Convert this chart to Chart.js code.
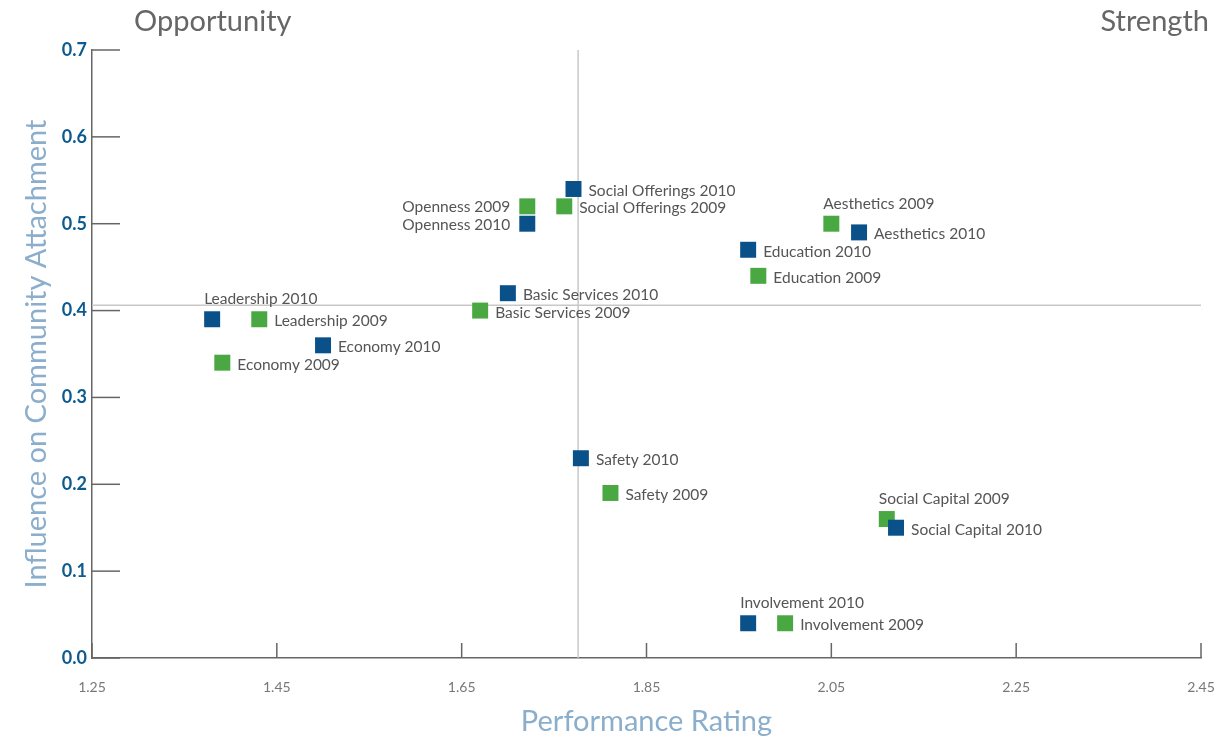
<!DOCTYPE html>
<html>
<head>
<meta charset="utf-8">
<script src="https://cdn.jsdelivr.net/npm/chart.js@4"></script>
<style>
  body { margin:0; background:#fff; }
  canvas { display:block; }
</style>
</head>
<body>
<canvas id="chart" width="1223" height="740"></canvas>
<script>
// -- data --
let categories = ["Social Offerings","Openness","Basic Services","Leadership","Economy","Aesthetics","Education","Safety","Social Capital","Involvement"];
let perf2010 = [1.771, 1.721, 1.700, 1.380, 1.500, 2.080, 1.960, 1.779, 2.120, 1.960];
let infl2010 = [0.54, 0.50, 0.42, 0.39, 0.36, 0.49, 0.47, 0.23, 0.15, 0.04];
let perf2009 = [1.761, 1.721, 1.670, 1.431, 1.391, 2.050, 1.971, 1.811, 2.110, 2.000];
let infl2009 = [0.52, 0.52, 0.40, 0.39, 0.34, 0.50, 0.44, 0.19, 0.16, 0.04];
let xTicks = [1.25, 1.45, 1.65, 1.85, 2.05, 2.25, 2.45];
let yTicks = [0, 0.1, 0.2, 0.3, 0.4, 0.5, 0.6, 0.7];
let avgPerf = 1.776, avgInfl = 0.406;

// -- where each point label sits (style only)
let place2010 = ["right","left","right","above","right","right","right","right","right","above"];
let place2009 = ["right","left","right","right","right","above","right","right","above","right"];

const BLUE = "#0b5189", GREEN = "#4aa843", FONT = "Lato, 'Noto Sans', sans-serif";

function pts(xs, ys){ return xs.map((x,i)=>({x, y:ys[i]})); }

// reference lines, inner tick marks, point labels, quadrant captions
const decor = {
  id:'decor',
  beforeDatasetsDraw(c){
    let {ctx, chartArea:a, scales:{x,y}} = c;
    ctx.save();
    ctx.strokeStyle="#c8c8c8"; ctx.lineWidth=1.5;
    let vx=x.getPixelForValue(avgPerf), hy=y.getPixelForValue(avgInfl);
    ctx.beginPath(); ctx.moveTo(vx,a.top); ctx.lineTo(vx,a.bottom); ctx.stroke();
    ctx.beginPath(); ctx.moveTo(a.left,hy); ctx.lineTo(a.right,hy); ctx.stroke();
    ctx.strokeStyle="#666"; ctx.lineWidth=1.5;
    yTicks.forEach(v=>{ let py=y.getPixelForValue(v); ctx.beginPath(); ctx.moveTo(a.left,py); ctx.lineTo(a.left+28,py); ctx.stroke(); });
    xTicks.forEach(v=>{ let px=x.getPixelForValue(v); ctx.beginPath(); ctx.moveTo(px,a.bottom); ctx.lineTo(px,a.bottom-15); ctx.stroke(); });
    ctx.restore();
  },
  afterDatasetsDraw(c){
    let ctx=c.ctx;
    ctx.save();
    ctx.font="15.5px "+FONT; ctx.fillStyle="#555"; ctx.textBaseline="middle";
    [[0,"2010",place2010],[1,"2009",place2009]].forEach(([di,yr,place])=>{
      c.getDatasetMeta(di).data.forEach((p,i)=>{
        let txt=categories[i]+" "+yr, where=place[i];
        if(where==="right"){ ctx.textAlign="left"; ctx.fillText(txt,p.x+15,p.y+2); }
        else if(where==="left"){ ctx.textAlign="right"; ctx.fillText(txt,p.x-17,p.y+1); }
        else { ctx.textAlign="left"; ctx.fillText(txt,p.x-8,p.y-20); }
      });
    });
    ctx.font="29px "+FONT; ctx.fillStyle="#666"; ctx.textBaseline="middle";
    ctx.textAlign="left"; ctx.fillText("Opportunity",134,22);
    ctx.textAlign="right"; ctx.fillText("Strength",1209,22);
    ctx.restore();
  }
};

new Chart(document.getElementById("chart"), {
  type:'scatter',
  data:{ datasets:[
    { label:"2010", data:pts(perf2010,infl2010), backgroundColor:BLUE, borderColor:BLUE, borderWidth:0, pointStyle:'rect', pointRadius:11.3, pointHoverRadius:11.3 },
    { label:"2009", data:pts(perf2009,infl2009), backgroundColor:GREEN, borderColor:GREEN, borderWidth:0, pointStyle:'rect', pointRadius:11.3, pointHoverRadius:11.3 }
  ]},
  options:{
    responsive:false, animation:false,
    layout:{ autoPadding:false, padding:{ top:50, right:22, left:0, bottom:0 } },
    plugins:{ legend:{display:false}, tooltip:{enabled:false} },
    scales:{
      x:{
        type:'linear', min:1.25, max:2.45,
        afterBuildTicks:s=>{ s.ticks = xTicks.map(v=>({value:v})); },
        afterFit:s=>{ s.height = 82; },
        grid:{ display:true, drawOnChartArea:false, drawTicks:true, tickLength:21, tickColor:'rgba(0,0,0,0)' },
        border:{ color:"#666", width:1.5 },
        ticks:{ padding:0, color:"#777", font:{ family:FONT, size:14 }, callback:v=>v.toFixed(2), maxRotation:0 },
        title:{ display:true, text:"Performance Rating", color:"#8aaecb", font:{ family:FONT, size:29 }, padding:{ top:0, bottom:1 } }
      },
      y:{
        type:'linear', min:0, max:0.7,
        afterBuildTicks:s=>{ s.ticks = yTicks.map(v=>({value:v})); },
        afterFit:s=>{ s.width = 92; },
        grid:{ display:true, drawOnChartArea:false, drawTicks:false },
        border:{ color:"#666", width:1.5 },
        ticks:{ padding:5, color:"#0d5a8f", font:{ family:FONT, size:18, weight:'bold' }, callback:v=>v.toFixed(1) },
        title:{ display:true, text:"Influence on Community Attachment", color:"#8aaecb", font:{ family:FONT, size:29 }, padding:{ top:19, bottom:0 } }
      }
    }
  },
  plugins:[decor]
});
</script>
</body>
</html>
